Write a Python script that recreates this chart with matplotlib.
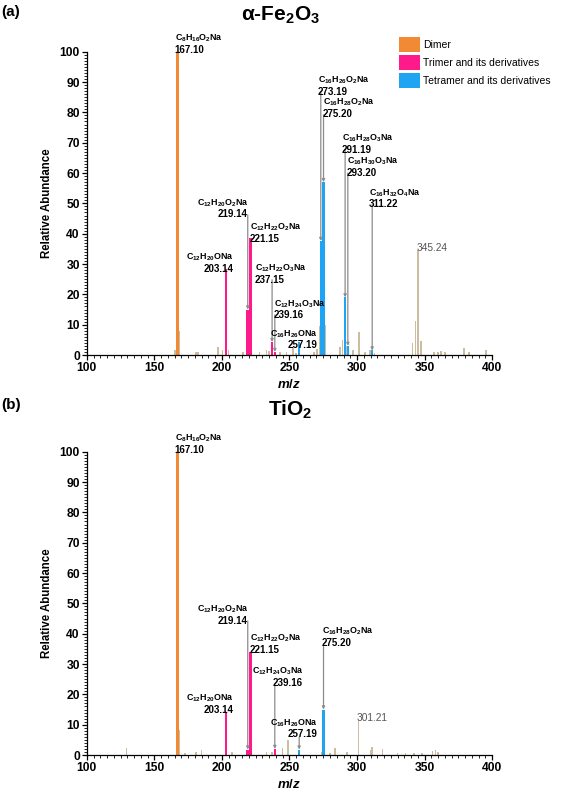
import matplotlib
matplotlib.use("Agg")
import matplotlib.pyplot as plt
from matplotlib.patches import Patch
from matplotlib.ticker import MultipleLocator

plt.rcParams['font.family'] = ['Liberation Sans', 'DejaVu Sans']
plt.rcParams['mathtext.fontset'] = 'custom'
plt.rcParams['mathtext.rm'] = 'Liberation Sans:bold'
plt.rcParams['mathtext.bf'] = 'Liberation Sans:bold'
plt.rcParams['mathtext.it'] = 'Liberation Sans:italic:bold'
plt.rcParams['mathtext.default'] = 'rm'

# ---------------- data: panel (a) alpha-Fe2O3 ----------------
a_dimer_mz = [167.10]
a_dimer_h = [100]
a_trimer_mz = [203.14, 219.14, 221.15, 237.15, 239.16]
a_trimer_h = [28.4, 15.0, 38.6, 4.3, 1.0]
a_tetramer_mz = [257.19, 273.19, 275.20, 291.19, 293.20, 311.22]
a_tetramer_h = [4.2, 37.6, 57.0, 19.0, 3.0, 1.5]
a_other_mz = [165.2, 168.2, 181, 182.5, 197, 200.5, 205, 215.5, 218.5, 228, 233, 235,
              243, 248, 252.6, 255, 268, 270.5, 272.2, 276.3, 287.5, 289.2, 292.3, 297,
              301.5, 306, 309.6, 313, 341, 343.2, 345.24, 347.2, 357, 360, 362, 365,
              379, 383, 395.6]
a_other_h = [1.6, 8.0, 1.0, 1.0, 2.6, 1.5, 1.8, 1.0, 2.0, 1.0, 1.5, 1.2,
             1.0, 1.0, 2.3, 0.8, 1.0, 2.0, 9.5, 10.0, 2.5, 5.0, 3.0, 1.5,
             7.7, 1.0, 1.5, 0.8, 4.0, 11.3, 34.6, 4.6, 1.0, 1.0, 1.2, 1.0,
             2.4, 1.0, 1.5]

# ---------------- data: panel (b) TiO2 ----------------
b_dimer_mz = [167.10]
b_dimer_h = [100]
b_trimer_mz = [203.14, 219.14, 221.15, 239.16]
b_trimer_h = [13.9, 1.8, 34.0, 2.0]
b_tetramer_mz = [257.19, 275.20]
b_tetramer_h = [1.8, 15.0]
b_other_mz = [129.6, 168.2, 172.6, 181, 185, 207.4, 233, 237, 245, 249, 274, 280,
              283.7, 292.6, 301.21, 310, 311.2, 319, 330, 336, 342, 348, 356, 358, 360]
b_other_h = [2.2, 8.3, 0.7, 1.0, 1.5, 1.0, 1.0, 1.0, 2.2, 5.0, 1.0, 0.8,
             2.2, 1.0, 11.5, 1.5, 2.5, 2.0, 0.7, 0.7, 0.7, 0.7, 1.2, 1.5, 1.0]

legend_labels = ["Dimer", "Trimer and its derivatives", "Tetramer and its derivatives"]

# annotations: (mz, formula, value text, text x, text y (top), ha, arrow_start_y, peak_y)
a_labels = [
    (167.10, r"C$_8$H$_{16}$O$_2$Na", "167.10", 165.2, 106.3, 'left', None, None),
    (219.14, r"C$_{12}$H$_{20}$O$_2$Na", "219.14", 219.3, 52.1, 'right', 46.2, 15.0),
    (221.15, r"C$_{12}$H$_{22}$O$_2$Na", "221.15", 220.7, 43.9, 'left', None, None),
    (203.14, r"C$_{12}$H$_{20}$ONa", "203.14", 208.9, 34.0, 'right', None, None),
    (237.15, r"C$_{12}$H$_{22}$O$_3$Na", "237.15", 224.4, 30.4, 'left', 24.8, 4.3),
    (239.16, r"C$_{12}$H$_{24}$O$_3$Na", "239.16", 238.5, 18.8, 'left', 13.2, 1.0),
    (257.19, r"C$_{16}$H$_{26}$ONa", "257.19", 271.1, 8.9, 'right', None, None),
    (273.19, r"C$_{16}$H$_{26}$O$_2$Na", "273.19", 271.1, 92.4, 'left', 86.5, 37.6),
    (275.20, r"C$_{16}$H$_{28}$O$_2$Na", "275.20", 274.8, 85.1, 'left', 79.2, 57.0),
    (291.19, r"C$_{16}$H$_{28}$O$_3$Na", "291.19", 288.9, 73.3, 'left', 67.7, 19.0),
    (293.20, r"C$_{16}$H$_{30}$O$_3$Na", "293.20", 292.6, 65.7, 'left', 60.0, 3.0),
    (311.22, r"C$_{16}$H$_{32}$O$_4$Na", "311.22", 308.9, 55.4, 'left', 49.5, 1.5),
]
b_labels = [
    (167.10, r"C$_8$H$_{16}$O$_2$Na", "167.10", 165.2, 106.3, 'left', None, None),
    (219.14, r"C$_{12}$H$_{20}$O$_2$Na", "219.14", 219.3, 49.8, 'right', 44.2, 1.8),
    (221.15, r"C$_{12}$H$_{22}$O$_2$Na", "221.15", 220.7, 40.3, 'left', None, None),
    (239.16, r"C$_{12}$H$_{24}$O$_3$Na", "239.16", 260.0, 29.4, 'right', 23.1, 2.0),
    (203.14, r"C$_{12}$H$_{20}$ONa", "203.14", 208.9, 20.5, 'right', None, None),
    (257.19, r"C$_{16}$H$_{26}$ONa", "257.19", 271.1, 12.5, 'right', 5.9, 1.8),
    (275.20, r"C$_{16}$H$_{28}$O$_2$Na", "275.20", 274.1, 42.6, 'left', 36.3, 15.0),
]
a_plain = [(343.7, 37.0, "345.24")]
b_plain = [(299.3, 13.9, "301.21")]

ORANGE = "#F28A35"
PINK = "#FF1A8C"
BLUE = "#1EA4F2"
TAN = "#CDBC9E"
ARROW = "#8C8C8C"

fig = plt.figure(figsize=(5.67, 7.96), dpi=100)
ax_a = fig.add_axes([0.153, 0.554, 0.715, 0.381])
ax_b = fig.add_axes([0.153, 0.0515, 0.715, 0.381])


def draw(ax, other, dimer, trimer, tetramer, labels, plain):
    ax.bar(other[0], other[1], width=1.1, color=TAN, zorder=1)
    ax.bar(dimer[0], dimer[1], width=1.9, color=ORANGE, zorder=2)
    ax.bar(trimer[0], trimer[1], width=1.9, color=PINK, zorder=2)
    ax.bar(tetramer[0], tetramer[1], width=1.9, color=BLUE, zorder=2)
    ax.set_xlim(100, 400)
    ax.set_ylim(0, 100)
    for s in ['top', 'right']:
        ax.spines[s].set_visible(False)
    ax.spines['left'].set_linewidth(0.9)
    ax.spines['bottom'].set_linewidth(0.9)
    ax.xaxis.set_major_locator(MultipleLocator(50))
    ax.xaxis.set_minor_locator(MultipleLocator(5))
    ax.yaxis.set_major_locator(MultipleLocator(10))
    ax.yaxis.set_minor_locator(MultipleLocator(1))
    ax.tick_params(which='major', length=3.5, width=0.9, labelsize=8.7, pad=1.5)
    ax.tick_params(which='minor', length=2, width=0.6)
    for t in ax.get_xticklabels() + ax.get_yticklabels():
        t.set_fontweight('bold')
    ax.set_ylabel("Relative Abundance", fontsize=8.3, fontweight='bold', labelpad=5)
    ax.set_xlabel(r"$\mathit{m/z}$", fontsize=9.5, labelpad=3)
    for mz, form, val, tx, ty, ha, ys, ye in labels:
        ax.text(tx, ty, form, ha=ha, va='top', fontsize=6.4, fontweight='bold',
                clip_on=False, zorder=5)
        ax.annotate(val, xy=(tx, ty), xytext=(0, -8.6), textcoords='offset points',
                    ha=ha, va='top', fontsize=7, fontweight='bold',
                    annotation_clip=False, zorder=5)
        if ys is not None:
            ax.annotate("", xy=(mz, ye), xytext=(mz, ys), annotation_clip=False,
                        arrowprops=dict(arrowstyle='-|>', color=ARROW, lw=0.9,
                                        mutation_scale=4, shrinkA=0, shrinkB=0),
                        zorder=4)
    for tx, ty, s in plain:
        ax.text(tx, ty, s, ha='left', va='top', fontsize=7.3, color='#555555')


draw(ax_a, (a_other_mz, a_other_h), (a_dimer_mz, a_dimer_h), (a_trimer_mz, a_trimer_h),
     (a_tetramer_mz, a_tetramer_h), a_labels, a_plain)
draw(ax_b, (b_other_mz, b_other_h), (b_dimer_mz, b_dimer_h), (b_trimer_mz, b_trimer_h),
     (b_tetramer_mz, b_tetramer_h), b_labels, b_plain)

handles = [Patch(facecolor=c, edgecolor='none') for c in (ORANGE, PINK, BLUE)]
ax_a.legend(handles, legend_labels, loc='upper left', bbox_to_anchor=(0.77, 1.05),
            frameon=False, fontsize=7.5, handlelength=2.0, handleheight=1.9,
            handletextpad=0.35, labelspacing=0.25, borderaxespad=0, borderpad=0)

fig.text(0.495, 0.981, "α-Fe$_2$O$_3$", ha='center', va='center', fontsize=15,
         fontweight='bold')
fig.text(0.512, 0.485, "TiO$_2$", ha='center', va='center', fontsize=15,
         fontweight='bold')
fig.text(0.003, 0.985, "(a)", ha='left', va='center', fontsize=11, fontweight='bold')
fig.text(0.003, 0.491, "(b)", ha='left', va='center', fontsize=11, fontweight='bold')

fig.savefig("out.png", dpi=100)
